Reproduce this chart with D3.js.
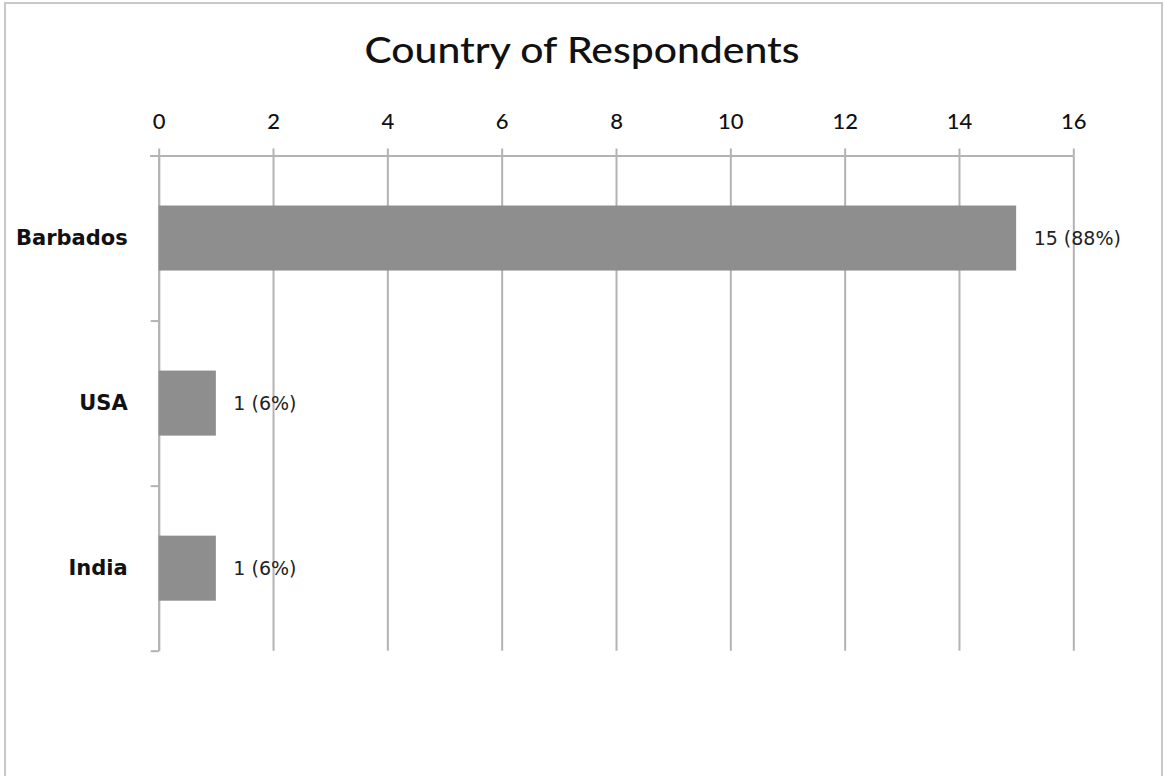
<!DOCTYPE html>
<html>
<head>
<meta charset="utf-8">
<script src="https://cdn.jsdelivr.net/npm/d3@7"></script>
<style>
  html, body { margin: 0; padding: 0; background: #fff; }
  svg { display: block; }
</style>
</head>
<body>
<svg id="chart" width="1164" height="776"></svg>
<script>
// Respondents by country
const categories = ["Barbados", "USA", "India"];
const counts = [15, 1, 1];
const percents = [88, 6, 6];
const xTicks = [0, 2, 4, 6, 8, 10, 12, 14, 16];

const W = 1164, H = 776;
const margin = { top: 155.5, left: 158.7, right: 1164 - 1073.3, bottom: 776 - 650.7 };
const fontFamily = "Lato, 'Open Sans', sans-serif";
const wideFamily = "'DejaVu Sans', 'Open Sans', sans-serif";
const gridColor = "#b3b3b3";
const barColor = "#8e8e8e";

const svg = d3.select("#chart");

// outer frame (left, top, right edges)
svg.append("path")
  .attr("d", `M5,${H} V3 H1162 V${H}`)
  .attr("fill", "none")
  .attr("stroke", "#c8c8c8")
  .attr("stroke-width", 2);

// title
svg.append("text")
  .attr("x", 582)
  .attr("y", 63)
  .attr("text-anchor", "middle")
  .attr("font-family", fontFamily)
  .attr("font-size", 37)
  .attr("font-weight", 500)
  .attr("fill", "#111")
  .attr("textLength", 435)
  .attr("lengthAdjust", "spacingAndGlyphs")
  .text("Country of Respondents");

const x = d3.scaleLinear()
  .domain([0, 16])
  .range([margin.left, W - margin.right]);

const y = d3.scaleBand()
  .domain(categories)
  .range([margin.top, H - margin.bottom])
  .paddingInner(0.606)
  .paddingOuter(0.303);

const yEdges = d3.scaleLinear()
  .domain([0, categories.length])
  .range([margin.top, H - margin.bottom]);

const plotH = (H - margin.bottom) - margin.top;

// vertical gridlines
const grid = svg.append("g")
  .attr("transform", `translate(0,${margin.top})`)
  .call(d3.axisBottom(x).tickValues(xTicks).tickSize(plotH).tickFormat(""));
grid.select(".domain").remove();
grid.selectAll("line").attr("stroke", gridColor).attr("stroke-width", 2);

// top value axis
const xAxis = svg.append("g")
  .attr("transform", `translate(0,${margin.top})`)
  .call(d3.axisTop(x).tickValues(xTicks).tickSize(7).tickPadding(19.5).tickSizeOuter(0));
xAxis.select(".domain")
  .attr("d", `M${margin.left - 8.5},0.5H${W - margin.right}`)
  .attr("stroke", gridColor).attr("stroke-width", 2);
xAxis.selectAll("line").attr("stroke", gridColor).attr("stroke-width", 2);
xAxis.selectAll("text")
  .attr("font-family", fontFamily)
  .attr("font-size", 22)
  .attr("font-weight", 500)
  .attr("fill", "#111");

// left category axis: ticks at band edges
const edgeAxis = svg.append("g")
  .attr("transform", `translate(${margin.left},0)`)
  .call(d3.axisLeft(yEdges).tickValues(d3.range(categories.length + 1)).tickSize(8).tickSizeOuter(0).tickFormat(""));
edgeAxis.selectAll("line").attr("stroke", gridColor).attr("stroke-width", 2);
edgeAxis.select(".domain").attr("stroke", gridColor).attr("stroke-width", 2);

// category labels
const catAxis = svg.append("g")
  .attr("transform", `translate(${margin.left},0)`)
  .call(d3.axisLeft(y).tickSize(0).tickPadding(31));
catAxis.select(".domain").remove();
catAxis.selectAll("text")
  .attr("font-family", wideFamily)
  .attr("font-weight", "bold")
  .attr("font-size", 21)
  .attr("fill", "#111");

// bars
const rows = categories.map((c, i) => ({ c, v: counts[i], p: percents[i] }));

svg.append("g")
  .selectAll("rect")
  .data(rows)
  .join("rect")
  .attr("x", x(0))
  .attr("y", d => y(d.c))
  .attr("width", d => x(d.v) - x(0))
  .attr("height", y.bandwidth())
  .attr("fill", barColor);

// value labels
svg.append("g")
  .selectAll("text")
  .data(rows)
  .join("text")
  .attr("x", d => x(d.v) + 17.5)
  .attr("y", d => y(d.c) + y.bandwidth() / 2)
  .attr("dy", "0.35em")
  .attr("font-family", wideFamily)
  .attr("font-size", 19)
  .attr("fill", "#222")
  .text(d => `${d.v} (${d.p}%)`);
</script>
</body>
</html>
